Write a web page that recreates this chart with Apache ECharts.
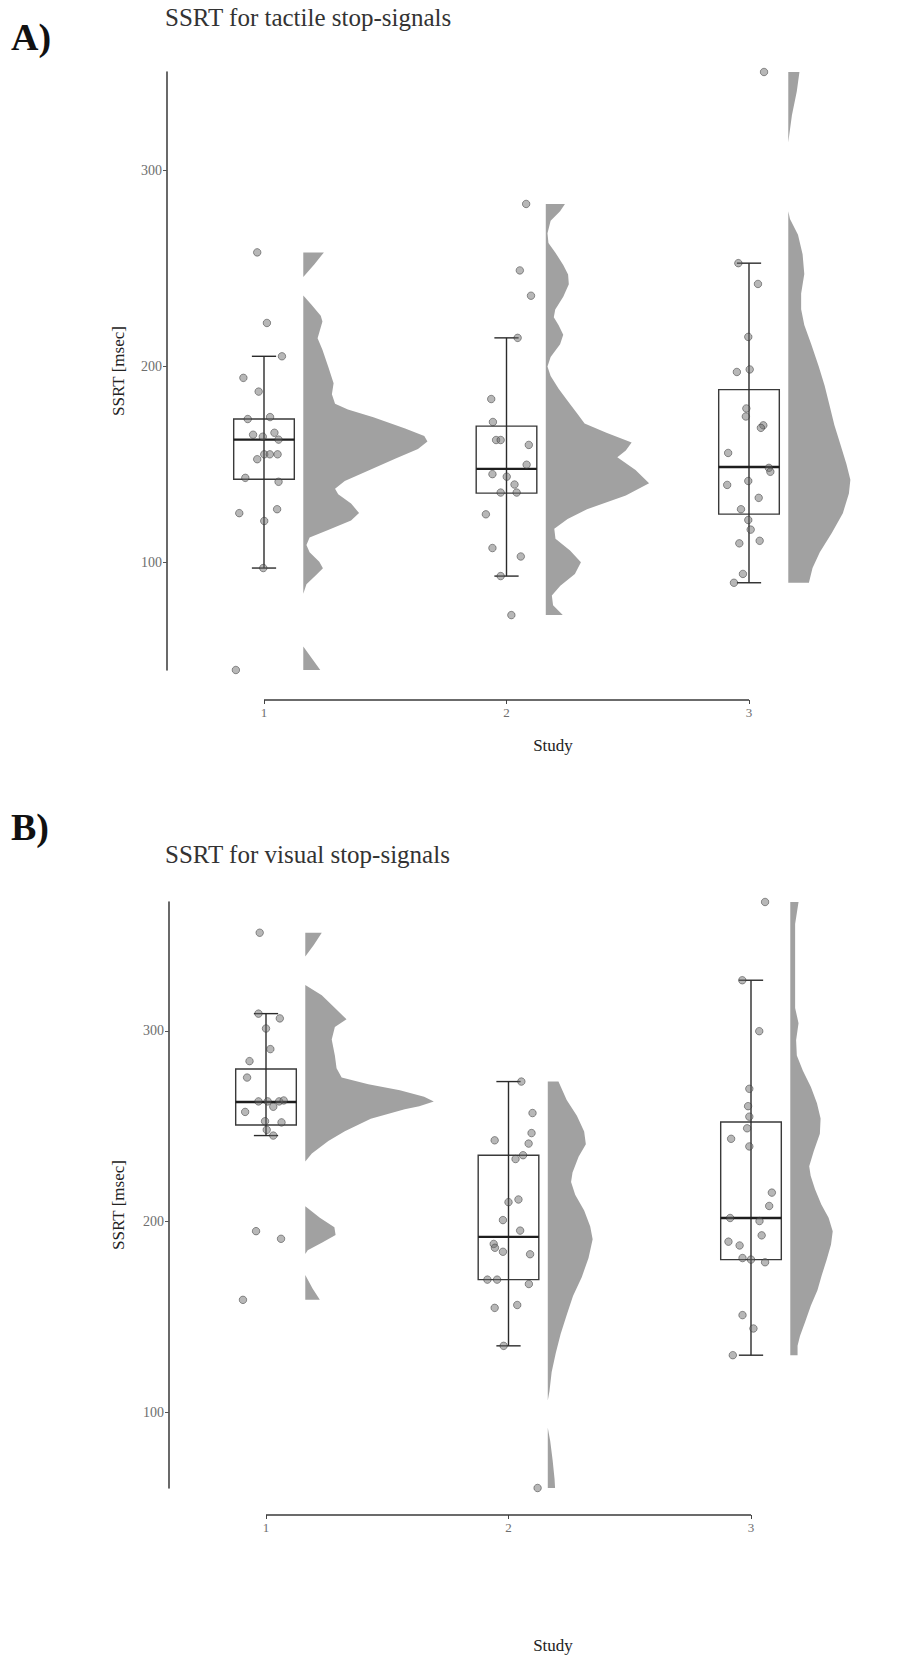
<!DOCTYPE html>
<html><head><meta charset="utf-8">
<script src="https://cdn.jsdelivr.net/npm/echarts@6/dist/echarts.min.js"></script>
<style>html,body{margin:0;padding:0;background:#fff}#c{width:900px;height:1656px}</style>
</head><body><div id="c"></div>
<script>
// ---------- data ----------
const studies = [1, 2, 3];
const tickValues = [100, 200, 300];

// points: [jitter offset (category units), SSRT]
const tactileS1 = [[-0.028,258],[0.012,222],[0.074,205],[-0.085,194],[-0.022,187],[0.025,174],[-0.067,173],[0.043,166],[-0.045,165],[-0.005,164],[0.06,162.5],[0.001,155],[0.024,155],[0.056,155],[-0.028,152.5],[-0.077,143],[0.06,141],[0.054,127],[-0.102,125],[0.001,121],[-0.003,97],[-0.116,45]];
const tactileS2 = [[0.081,282.7],[0.055,248.8],[0.101,235.9],[0.046,214.4],[-0.063,183.2],[-0.056,171.5],[-0.043,162.3],[-0.024,162.3],[0.092,159.8],[0.083,149.7],[-0.058,144.9],[0.001,143.6],[0.033,139.6],[-0.024,135.5],[0.042,135.5],[-0.085,124.4],[-0.058,107.2],[0.059,102.9],[-0.024,92.9],[0.02,73]];
const tactileS3 = [[0.062,350],[-0.044,252.5],[0.037,241.9],[-0.003,214.9],[0.003,198.3],[-0.05,197],[-0.011,178.4],[-0.013,174.3],[0.059,169.8],[0.049,168.5],[-0.086,155.7],[0.082,148.1],[0.088,146.1],[-0.003,141.4],[-0.09,139.4],[0.04,132.8],[-0.033,127],[-0.003,121.5],[0.007,116.6],[0.044,110.9],[-0.04,109.6],[-0.025,94],[-0.062,89.5]];
const visualS1 = [[-0.026,351.4],[-0.031,309],[0.057,306.5],[0,301.2],[0.018,290.4],[-0.068,284.1],[-0.078,275.5],[-0.031,263],[0.007,263],[0.054,263],[0.073,263.5],[0.03,260.2],[-0.086,257.5],[-0.004,252.6],[0.064,252],[0.003,248.1],[0.03,245.1],[-0.041,195],[0.062,191],[-0.095,159]];
const visualS2 = [[0.053,273.4],[0.099,256.9],[0.095,246.4],[-0.057,242.6],[0.083,240.9],[0.06,234.8],[0.029,232.8],[0.041,211.6],[0,210.2],[-0.023,200.8],[0.048,195.3],[-0.061,188.3],[-0.056,186.3],[-0.023,184.2],[0.089,182.9],[-0.087,169.6],[-0.047,169.6],[0.084,167.3],[-0.057,154.8],[0.036,156.3],[-0.02,134.9],[0.12,60.4]];
const visualS3 = [[0.058,367.5],[-0.036,326.5],[0.034,299.8],[-0.007,269.6],[-0.012,260.5],[-0.007,255],[-0.016,248.9],[-0.082,243.4],[-0.007,239.4],[0.086,215.2],[0.075,208.2],[-0.086,201.9],[0.035,200.3],[0.044,192.8],[-0.093,189.5],[-0.047,187.5],[-0.035,180.9],[0,180.1],[0.058,178.7],[-0.035,151],[0.01,144],[-0.075,130]];

// box stats: [lower whisker, Q1, median, Q3, upper whisker]
const tactileBox = [[97,142.3,162.5,173,205],[92.9,135.2,147.6,169.4,214.4],[89.5,124.5,148.5,188,252.5]];
const visualBox  = [[245.1,250.6,262.7,280,309],[134.9,169.6,192,234.8,273.4],[130,180.1,201.9,252.2,326.5]];

// half-violin densities: [SSRT, width in category units], top to bottom
const tactileDens1 = [[258,0.085],[252,0.046],[245.5,0],[236,0],[231.4,0.033],[225.7,0.072],[222.8,0.079],[218,0.068],[214.2,0.059],[208.4,0.079],[198.9,0.105],[191.2,0.125],[185.6,0.118],[180.8,0.131],[177.8,0.184],[173.9,0.289],[168.2,0.42],[164.4,0.499],[161.5,0.512],[157.7,0.473],[152.9,0.381],[147.1,0.276],[141.4,0.171],[137.5,0.131],[134.7,0.144],[129.9,0.197],[125.1,0.23],[121.3,0.197],[116.5,0.105],[112.6,0.026],[108.8,0.013],[105,0.026],[100.2,0.066],[96.9,0.081],[93.5,0.053],[88.7,0.013],[83.9,0],[57,0],[45,0.07]];
const tactileDens2 = [[282.7,0.079],[279,0.059],[274.1,0.02],[267.7,0.007],[262.8,0.011],[258,0.039],[251.5,0.072],[246.7,0.092],[241.8,0.095],[235.4,0.072],[228.9,0.039],[224.9,0.033],[220.8,0.053],[216,0.072],[211.1,0.059],[204.7,0.02],[199.8,0.007],[195,0.02],[188.5,0.053],[182,0.092],[175.6,0.131],[170.7,0.16],[166,0.25],[161,0.354],[157,0.33],[153.5,0.295],[147,0.37],[140.3,0.426],[134,0.33],[127,0.17],[122,0.09],[117,0.035],[112,0.04],[106,0.1],[100,0.145],[94,0.12],[88,0.06],[83,0.025],[78,0.03],[73,0.07]];
const tactileDens3 = [[350,0.046],[340,0.035],[328,0.015],[318,0.004],[314,0],[279,0],[275,0.007],[267,0.04],[257,0.059],[247,0.066],[237,0.053],[229,0.053],[221,0.066],[211,0.095],[200,0.125],[190,0.15],[180,0.17],[170,0.19],[160,0.215],[150,0.24],[142,0.256],[135,0.25],[125,0.225],[115,0.18],[105,0.13],[97,0.1],[89.5,0.085]];
const visualDens1 = [[351.4,0.068],[345,0.035],[339,0],[324,0],[318.6,0.068],[310.3,0.136],[306,0.17],[302,0.122],[295.4,0.109],[287,0.122],[280.4,0.129],[275.5,0.15],[272,0.26],[268.8,0.39],[265.5,0.49],[263,0.53],[260.5,0.47],[258.9,0.41],[253.9,0.27],[247.3,0.163],[242.3,0.095],[235.7,0.027],[231.5,0],[208,0],[202,0.06],[197,0.12],[193,0.125],[189,0.07],[185,0.01],[183,0],[172,0],[165,0.03],[159,0.06]];
const visualDens2 = [[273.4,0.044],[263.8,0.078],[255.5,0.12],[247.2,0.15],[240.6,0.157],[234,0.127],[225.7,0.102],[220.7,0.096],[214.1,0.113],[205.8,0.15],[197.5,0.175],[190.8,0.185],[180.9,0.168],[170.9,0.14],[161,0.104],[151,0.078],[141.1,0.053],[131.1,0.033],[121.2,0.016],[111.2,0.007],[106.2,0],[92,0],[85,0.01],[75,0.02],[65,0.028],[60.4,0.03]];
const visualDens3 = [[367.5,0.034],[356,0.02],[337,0.02],[312,0.02],[304,0.034],[295,0.024],[287,0.027],[279,0.052],[270.5,0.085],[262,0.11],[254,0.125],[246,0.122],[237,0.097],[229,0.078],[224,0.084],[217,0.102],[209,0.128],[202,0.158],[195,0.175],[188,0.168],[180,0.15],[172,0.13],[164,0.112],[156,0.085],[148,0.063],[140,0.04],[135,0.03],[130,0.03]];

// ---------- drawing ----------
const SERIF = "'Liberation Serif','DejaVu Serif',serif";
const BOX_HALF = 0.125, CAP_HALF = 0.05, VIOLIN_OFFSET = 0.162;

const panels = [
  {grid:{left:167, top:72, width:703.25, height:598}, yMin:45, yMax:350, xOffset:30,
   points:[tactileS1,tactileS2,tactileS3], dens:[tactileDens1,tactileDens2,tactileDens3], box:tactileBox},
  {grid:{left:169, top:902, width:703.25, height:586}, yMin:60.4, yMax:367.5, xOffset:27,
   points:[visualS1,visualS2,visualS3], dens:[visualDens1,visualDens2,visualDens3], box:visualBox}
];

const series = [];
panels.forEach((p, i) => {
  series.push({
    type:'custom', xAxisIndex:i, yAxisIndex:i, clip:false, silent:true,
    data: studies.map((s, g) => [s, p.box[g][2]]),
    renderItem: (params, api) => {
      const d = p.dens[params.dataIndex];
      const x0 = api.value(0) + VIOLIN_OFFSET;
      const pts = [];
      d.forEach(([v]) => pts.push(api.coord([x0, v])));
      for (let k = d.length - 1; k >= 0; k--) pts.push(api.coord([x0 + d[k][1], d[k][0]]));
      return {type:'polygon', shape:{points:pts}, style:{fill:'#a1a1a1', stroke:null}};
    }
  });
  series.push({
    type:'custom', xAxisIndex:i, yAxisIndex:i, clip:false, silent:true,
    data: studies.map((s, g) => [s].concat(p.box[g])),
    renderItem: (params, api) => {
      const x = api.value(0), lo = api.value(1), q1 = api.value(2), md = api.value(3), q3 = api.value(4), hi = api.value(5);
      const a = api.coord([x - BOX_HALF, q3]), b = api.coord([x + BOX_HALF, q1]);
      const t = api.coord([x, hi]), bt = api.coord([x, lo]);
      const cl = api.coord([x - CAP_HALF, hi]), cr = api.coord([x + CAP_HALF, hi]);
      const dl = api.coord([x - CAP_HALF, lo]), dr = api.coord([x + CAP_HALF, lo]);
      const ml = api.coord([x - BOX_HALF, md]), mr = api.coord([x + BOX_HALF, md]);
      const ls = {stroke:'#2b2b2b', lineWidth:1.4, fill:null};
      return {type:'group', children:[
        {type:'rect', shape:{x:a[0], y:a[1], width:b[0]-a[0], height:b[1]-a[1]}, style:{stroke:'#3a3a3a', lineWidth:1.4, fill:null}},
        {type:'line', shape:{x1:t[0], y1:t[1], x2:bt[0], y2:bt[1]}, style:ls},
        {type:'line', shape:{x1:cl[0], y1:cl[1], x2:cr[0], y2:cr[1]}, style:ls},
        {type:'line', shape:{x1:dl[0], y1:dl[1], x2:dr[0], y2:dr[1]}, style:ls},
        {type:'line', shape:{x1:ml[0], y1:ml[1], x2:mr[0], y2:mr[1]}, style:{stroke:'#1e1e1e', lineWidth:2.4}}
      ]};
    }
  });
  series.push({
    type:'scatter', xAxisIndex:i, yAxisIndex:i, clip:false, silent:true,
    symbol:'circle', symbolSize:7.5,
    itemStyle:{color:'rgba(105,105,105,0.6)', borderColor:'rgba(45,45,45,0.6)', borderWidth:1},
    data: p.points.flatMap((arr, g) => arr.map(([j, v]) => [studies[g] + j, v]))
  });
  // capped x axis line from first to last study
  series.push({
    type:'custom', xAxisIndex:i, yAxisIndex:i, clip:false, silent:true,
    data: [[studies[0], p.yMin, studies[studies.length - 1]]],
    renderItem: (params, api) => {
      const s = api.coord([api.value(0), api.value(1)]);
      const e = api.coord([api.value(2), api.value(1)]);
      return {type:'line', shape:{x1:s[0], y1:s[1] + p.xOffset, x2:e[0], y2:e[1] + p.xOffset}, style:{stroke:'#3a3a3a', lineWidth:1.6}};
    }
  });
});

const textStyle = (size, weight, color) => ({font:`${weight} ${size}px ${SERIF}`, fill:color});

const option = {
  animation:false,
  backgroundColor:'#ffffff',
  grid: panels.map(p => p.grid),
  xAxis: panels.map((p, i) => ({
    type:'value', gridIndex:i, min:0.6, max:3.5, offset:p.xOffset,
    axisLine:{show:false}, splitLine:{show:false},
    axisTick:{show:true, customValues:studies, length:4, lineStyle:{color:'#444', width:1}},
    axisLabel:{customValues:studies, color:'#6e6e6e', fontSize:13, fontFamily:SERIF, margin:6}
  })),
  yAxis: panels.map((p, i) => ({
    type:'value', gridIndex:i, min:p.yMin, max:p.yMax,
    axisLine:{show:true, lineStyle:{color:'#444', width:1.6}}, splitLine:{show:false},
    axisTick:{show:true, customValues:tickValues, length:4, lineStyle:{color:'#555', width:1}},
    axisLabel:{customValues:tickValues, color:'#6e6e6e', fontSize:14, fontFamily:SERIF, margin:5}
  })),
  graphic: [
    {type:'text', x:11, y:18, style:Object.assign({text:'A)', verticalAlign:'top', textVerticalAlign:'top'}, textStyle(38,'bold','#111'))},
    {type:'text', x:165, y:5, style:Object.assign({text:'SSRT for tactile stop-signals', verticalAlign:'top', textVerticalAlign:'top'}, textStyle(25,'normal','#333'))},
    {type:'text', x:118, y:371, rotation:Math.PI/2, style:Object.assign({text:'SSRT [msec]', align:'center', textAlign:'center', verticalAlign:'middle', textVerticalAlign:'middle'}, textStyle(17,'normal','#222'))},
    {type:'text', x:553, y:745, style:Object.assign({text:'Study', align:'center', textAlign:'center', verticalAlign:'middle', textVerticalAlign:'middle'}, textStyle(17,'normal','#222'))},
    {type:'text', x:11, y:808, style:Object.assign({text:'B)', verticalAlign:'top', textVerticalAlign:'top'}, textStyle(38,'bold','#111'))},
    {type:'text', x:165, y:842, style:Object.assign({text:'SSRT for visual stop-signals', verticalAlign:'top', textVerticalAlign:'top'}, textStyle(25,'normal','#333'))},
    {type:'text', x:118, y:1205, rotation:Math.PI/2, style:Object.assign({text:'SSRT [msec]', align:'center', textAlign:'center', verticalAlign:'middle', textVerticalAlign:'middle'}, textStyle(17,'normal','#222'))},
    {type:'text', x:553, y:1645, style:Object.assign({text:'Study', align:'center', textAlign:'center', verticalAlign:'middle', textVerticalAlign:'middle'}, textStyle(17,'normal','#222'))}
  ],
  series
};

const chart = echarts.init(document.getElementById('c'), null, {renderer:'svg'});
chart.setOption(option);
</script></body></html>
